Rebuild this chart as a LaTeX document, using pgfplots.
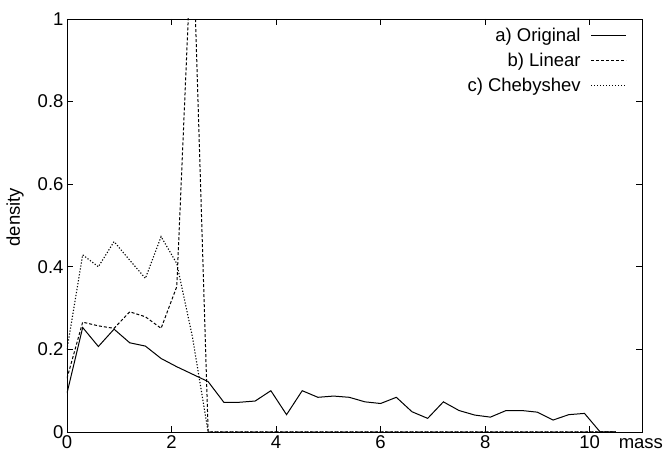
\documentclass[border=0pt]{standalone}
\usepackage{fontspec}
\setmainfont{Liberation Sans}
\usepackage{pgfplots}
\pgfplotsset{compat=1.18}
\newcommand\fs{\fontsize{18.5}{22}\selectfont}

\begin{document}
\begin{tikzpicture}
\useasboundingbox (-67pt,-20pt) rectangle (598pt,432pt);
\begin{axis}[
  at={(0,0)}, anchor=south west,
  scale only axis,
  width=575pt, height=413pt,
  xmin=0, xmax=11, ymin=0, ymax=1,
  xtick={0,2,...,10},
  ytick={0,0.2,0.4,0.6,0.8,1},
  tick align=inside,
  major tick length=6pt,
  axis line style={line width=0.9pt},
  every tick/.style={black, line width=0.9pt},
  /pgf/number format/assume math mode=true,
  tick label style={font=\fs},
  label style={font=\fs},
  xlabel={mass},
  xlabel style={at={(rel axis cs:0.998,0)}, anchor=base, yshift=-17pt},
  ylabel={density},
  ylabel style={at={([xshift=-52pt]rel axis cs:0,0.52)}, anchor=center},
  legend plot pos=right,
  legend cell align=right,
  legend image code/.code={\path (0pt,0pt); \draw[#1] (8pt,0pt) -- (43pt,0pt);},
  legend style={at={(rel axis cs:0.979,0.988)}, anchor=north east,
    draw=none, fill=none, font=\fs, row sep=6pt},
  clip=true,
]
  \addplot[black, line width=1pt] table {
    x y
    0 0.094
    0.3 0.253
    0.6 0.207
    0.9 0.249
    1.2 0.216
    1.5 0.208
    1.8 0.178
    2.1 0.158
    2.4 0.140
    2.7 0.122
    3.0 0.072
    3.3 0.072
    3.6 0.075
    3.9 0.100
    4.2 0.042
    4.5 0.100
    4.8 0.084
    5.1 0.087
    5.4 0.084
    5.7 0.073
    6.0 0.069
    6.3 0.084
    6.6 0.049
    6.9 0.033
    7.2 0.073
    7.5 0.052
    7.8 0.041
    8.1 0.036
    8.4 0.052
    8.7 0.052
    9.0 0.048
    9.3 0.029
    9.6 0.042
    9.9 0.045
    10.2 0
    10.5 0
  };
  \addlegendentry{a) Original}

  \addplot[black, line width=1pt, dash pattern=on 3pt off 2pt] table {
    x y
    0 0.13
    0.3 0.266
    0.6 0.257
    0.9 0.251
    1.2 0.291
    1.5 0.279
    1.8 0.251
    2.1 0.352
    2.4 1.24
    2.7 0
    10.5 0
  };
  \addlegendentry{b) Linear}

  \addplot[black, line width=1.1pt, dash pattern=on 1.2pt off 1.8pt] table {
    x y
    0 0.2
    0.3 0.429
    0.6 0.400
    0.9 0.461
    1.2 0.416
    1.5 0.372
    1.8 0.473
    2.1 0.408
    2.4 0.23
    2.7 0
    10.5 0
  };
  \addlegendentry{c) Chebyshev}
\end{axis}
\end{tikzpicture}
\end{document}
